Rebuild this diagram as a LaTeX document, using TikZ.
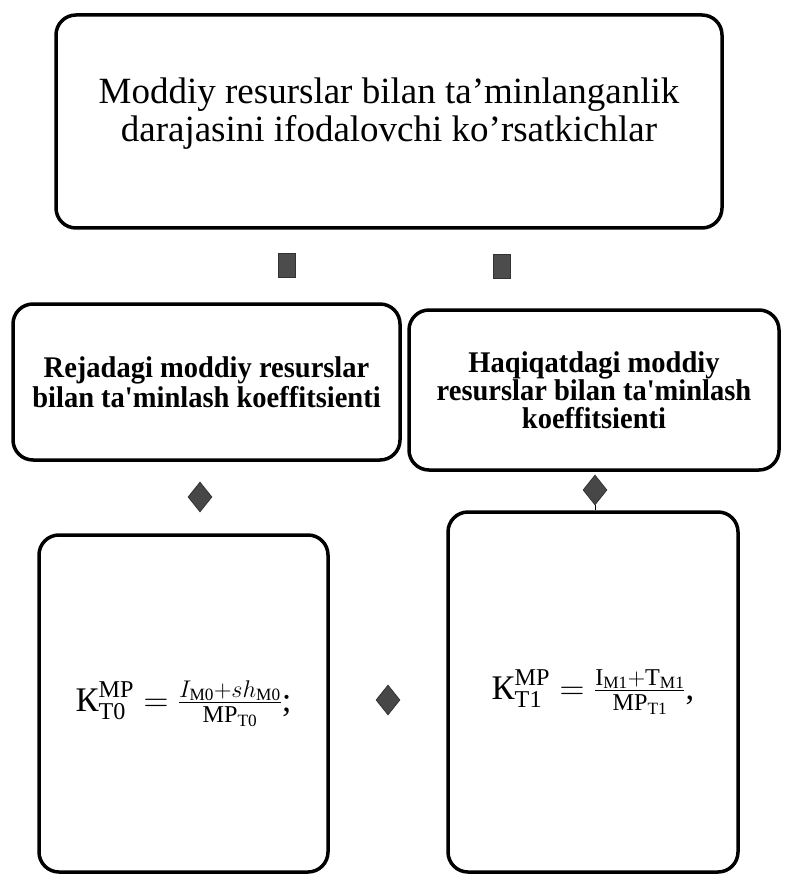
\RequirePackage{fix-cm}
\documentclass[tikz,border=0pt]{standalone}
\usepackage{amsmath}
\usepackage{fontspec}
\setmainfont{Liberation Serif}
\newfontfamily\narrowfont[FakeStretch=0.95]{Liberation Serif}
\usetikzlibrary{shapes.geometric}
\tikzset{
	box/.style={draw, line width=3.5pt, rounded corners=20pt, align=center, inner sep=0pt},
	headtext/.style={font={\narrowfont\bfseries\fontsize{30}{30}\selectfont}},
	formula/.style={font={\fontsize{34.5}{44}\selectfont}},
	speck/.style={fill=black!70, draw=black!80, line width=0.6pt, minimum width=17pt, minimum height=24pt, inner sep=0pt},
	tip/.style={diamond, fill=black!72, draw=black!85, line width=0.6pt, inner sep=0pt, minimum width=24pt, minimum height=30pt},
}
\begin{document}
	\begin{tikzpicture}[x=1pt, y=-1pt]
		\useasboundingbox (0,0) rectangle (785,877);
		\node[box, minimum width=666pt, minimum height=213pt, font={\fontsize{37}{38}\selectfont}] (top) at (389,121.5)
			{\\[-28pt]Moddiy resurslar bilan ta'minlanganlik\\darajasini ifodalovchi ko'rsatkichlar};
		\node[box, headtext, minimum width=387pt, minimum height=156pt] (reja) at (206.5,382)
			{Rejadagi moddiy resurslar\\bilan ta'minlash koeffitsienti};
		\node[box, headtext, font={\narrowfont\bfseries\fontsize{30}{28}\selectfont}, minimum width=370pt, minimum height=160pt] (haqiqat) at (594,390)
			{Haqiqatdagi moddiy\\resurslar bilan ta'minlash\\koeffitsienti};
		\node[box, formula, minimum width=289pt, minimum height=337pt] (kt0) at (183.5,703.5)
			{$\text{К}^{\text{МР}}_{\text{Т0}}=\frac{I_{\text{М0}}+sh_{\text{М0}}}{\text{МР}_{\text{Т0}}}$;};
		\node[box, formula, minimum width=290pt, minimum height=360pt] (kt1) at (593,692)
			{$\text{К}^{\text{МР}}_{\text{Т1}}=\frac{\text{I}_{\text{М1}}+\text{Т}_{\text{М1}}}{\text{МР}_{\text{Т1}}}$,};
		\node[speck] (m1) at (287,265) {};
		\node[speck] (m2) at (502,266) {};
		\node[tip] (d1) at (200,497) {};
		\node[tip] (d2) at (595,490) {};
		\node[tip] (d3) at (388,700) {};
		\draw[line width=1pt] (d2.south) -- (d2.south |- kt1.north);
	\end{tikzpicture}
\end{document}
